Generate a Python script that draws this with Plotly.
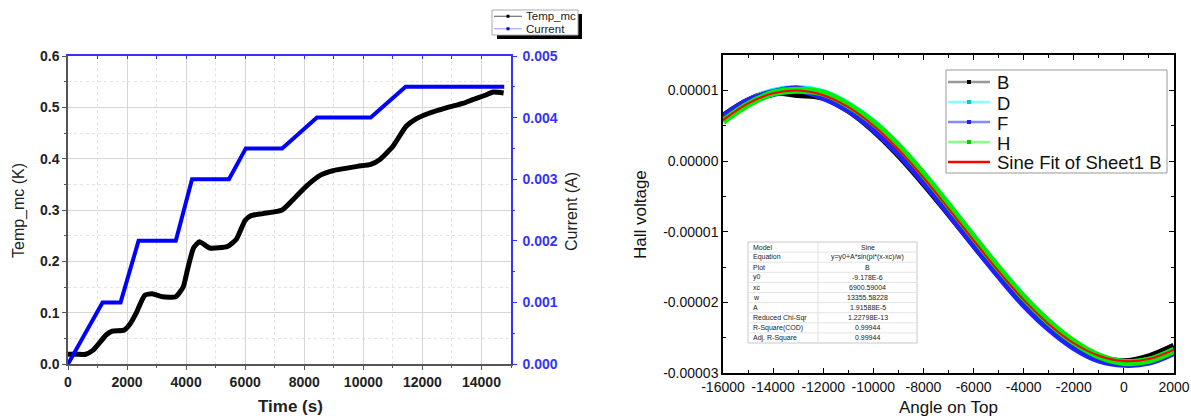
import plotly.graph_objects as go

# ---------------- data: left chart ----------------
time_temp = [0, 300, 600, 850, 1050, 1300, 1500, 1900, 2100, 2300, 2600, 2850, 3200, 3650,
             3900, 4050, 4250, 4450, 4800, 5400, 5700, 6000, 6200, 6600, 7250, 7700, 8100,
             8550, 9000, 9800, 10250, 10550, 11000, 11450, 11800, 12200, 12800, 13400,
             13700, 14100, 14400, 14750]
temp_mc = [0.019, 0.019, 0.019, 0.027, 0.040, 0.057, 0.064, 0.066, 0.078, 0.098, 0.134,
           0.137, 0.131, 0.131, 0.150, 0.185, 0.226, 0.238, 0.226, 0.229, 0.243, 0.280,
           0.289, 0.293, 0.300, 0.325, 0.348, 0.368, 0.377, 0.385, 0.389, 0.398, 0.424,
           0.463, 0.478, 0.488, 0.499, 0.508, 0.515, 0.523, 0.530, 0.528]
time_cur = [0, 1170, 1780, 2390, 3650, 4200, 5450, 6020, 7250, 8430, 10250, 11430, 14770]
current = [0, 0.001, 0.001, 0.002, 0.002, 0.003, 0.003, 0.0035, 0.0035, 0.004, 0.004,
           0.0045, 0.0045]
left_x_ticks = [0, 2000, 4000, 6000, 8000, 10000, 12000, 14000]
left_legend_names = ["Temp_mc", "Current"]
left_legend_line = ["#555555", "#9999ff"]
left_legend_mark = ["#000000", "#0000ff"]

# ---------------- data: right chart ----------------
angle = [-16000, -15000, -14000, -13000, -12000, -11000, -10000, -9000, -8000, -7000,
         -6000, -5000, -4000, -3000, -2000, -1000, 0, 1000, 2000]
hall_B = [6.3, 8.5, 9.7, 9.4, 9.0, 7.2, 4.4, 0.9, -3.1, -7.4, -11.8, -16.0, -20.1, -23.5,
          -26.2, -27.9, -28.4, -27.7, -26.2]
hall_D = [5.9, 8.3, 9.8, 10.2, 9.6, 7.9, 5.4, 2.0, -2.0, -6.4, -10.9, -15.3, -19.4, -22.9,
          -25.8, -27.7, -28.6, -28.3, -26.9]
hall_F = [6.1, 8.4, 9.6, 10.1, 9.1, 7.3, 4.6, 1.2, -2.8, -7.2, -11.7, -16.1, -20.2, -23.6,
          -26.3, -28.1, -28.7, -28.4, -27.0]
hall_H = [5.6, 8.0, 9.6, 10.0, 9.6, 7.9, 5.4, 2.1, -1.9, -6.3, -10.8, -15.2, -19.3, -22.8,
          -25.6, -27.6, -28.5, -28.2, -26.8]
hall_fit = [5.79, 8.16, 9.58, 9.97, 9.31, 7.62, 5.02, 1.63, -2.36, -6.74, -11.23, -15.62,
            -19.66, -23.09, -25.79, -27.55, -28.31, -28.01, -26.69]   # in 1e-6 V
right_x_tickvals = [-16000, -14000, -12000, -10000, -8000, -6000, -4000, -2000, 0, 2000]
right_x_ticktext = ["-16000", "-14000", "-12000", "-10000", "-8000", "-6000", "-4000",
                    "-2000", "0", "2000"]
right_y_tickvals = [1e-5, 0, -1e-5, -2e-5, -3e-5]
right_y_ticktext = ["0.00001", "0.00000", "-0.00001", "-0.00002", "-0.00003"]
right_legend_names = ["B", "D", "F", "H", "Sine Fit of Sheet1 B"]
right_legend_line = ["#999999", "#88ffff", "#8888ff", "#88ff88", "#ff0000"]
right_legend_mark = ["#000000", "#00cccc", "#2020ff", "#00cc00", None]

table_labels = ["Model", "Equation", "Plot", "y0", "xc", "w", "A", "Reduced Chi-Sqr",
                "R-Square(COD)", "Adj. R-Square"]
table_values = ["Sine", "y=y0+A*sin(pi*(x-xc)/w)", "B", "-9.178E-6", "6900.59004",
                "13355.58228", "1.91588E-5", "1.22798E-13", "0.99944", "0.99944"]

FONT = "Liberation Sans, Arial, sans-serif"
W, H = 1191, 420


def px_x(p):
    return p / W


def px_y(p):
    return 1 - p / H


scale = 1e-6
fig = go.Figure()

# ---- left chart traces ----
fig.add_trace(go.Scatter(x=time_temp, y=temp_mc, mode="lines", name="Temp_mc",
                         line=dict(color="black", width=5, shape="spline", smoothing=0.5),
                         xaxis="x", yaxis="y", showlegend=False))
fig.add_trace(go.Scatter(x=time_cur, y=current, mode="lines", name="Current",
                         line=dict(color="#0000ff", width=4),
                         xaxis="x", yaxis="y2", showlegend=False))
# dummy for top blue axis
fig.add_trace(go.Scatter(x=[None], y=[None], xaxis="x3", yaxis="y", showlegend=False))

# ---- right chart traces ----
series = [("B", hall_B, "black", 7), ("D", hall_D, "#00ffff", 8),
          ("F", hall_F, "#2020ff", 8), ("H", hall_H, "#00ee00", 7)]
for name, vals, col, w in series:
    fig.add_trace(go.Scatter(x=angle, y=[v * scale for v in vals], mode="lines", name=name,
                             line=dict(color=col, width=w, shape="spline"),
                             xaxis="x2", yaxis="y3", showlegend=False))
fig.add_trace(go.Scatter(x=angle, y=[v * scale for v in hall_fit], mode="lines",
                         name="Sine Fit of Sheet1 B",
                         line=dict(color="#ff0000", width=2, shape="spline"),
                         xaxis="x2", yaxis="y3", showlegend=False))

shapes = []
annotations = []

# ---- left legend (drawn box with shadow) ----
L_x0, L_x1, L_y0, L_row = 492, 578, 10, 12.5
L_y1 = L_y0 + L_row * len(left_legend_names)
shapes.append(dict(type="rect", xref="paper", yref="paper",
                   x0=px_x(L_x0 + 5), x1=px_x(L_x1 + 4), y0=px_y(L_y1 + 4), y1=px_y(L_y0 + 4),
                   fillcolor="black", line=dict(width=0), layer="above"))
shapes.append(dict(type="rect", xref="paper", yref="paper",
                   x0=px_x(L_x0), x1=px_x(L_x1), y0=px_y(L_y1), y1=px_y(L_y0),
                   fillcolor="white", line=dict(color="#aaaaaa", width=1), layer="above"))
for i, (nm, lc, mc) in enumerate(zip(left_legend_names, left_legend_line, left_legend_mark)):
    yc = L_y0 + L_row * (i + 0.5)
    shapes.append(dict(type="line", xref="paper", yref="paper",
                       x0=px_x(494), x1=px_x(522), y0=px_y(yc), y1=px_y(yc),
                       line=dict(color=lc, width=1), layer="above"))
    shapes.append(dict(type="rect", xref="paper", yref="paper",
                       x0=px_x(506.5), x1=px_x(509.5), y0=px_y(yc + 1.5), y1=px_y(yc - 1.5),
                       fillcolor=mc, line=dict(width=0), layer="above"))
    annotations.append(dict(text=nm, x=px_x(524), y=px_y(yc), xref="paper", yref="paper",
                            xanchor="left", yanchor="middle", showarrow=False,
                            font=dict(size=11.5, color="#222")))

# ---- right legend ----
R_x0, R_x1, R_y0, R_row = 946, 1167, 72, 20
R_y1 = R_y0 + R_row * len(right_legend_names) + 1
shapes.append(dict(type="rect", xref="paper", yref="paper",
                   x0=px_x(R_x0), x1=px_x(R_x1), y0=px_y(R_y1), y1=px_y(R_y0 - 2),
                   fillcolor="white", line=dict(color="#999999", width=1), layer="above"))
for i, (nm, lc, mc) in enumerate(zip(right_legend_names, right_legend_line, right_legend_mark)):
    yc = R_y0 + R_row * (i + 0.5)
    shapes.append(dict(type="line", xref="paper", yref="paper",
                       x0=px_x(948), x1=px_x(990), y0=px_y(yc), y1=px_y(yc),
                       line=dict(color=lc, width=2.5), layer="above"))
    if mc:
        shapes.append(dict(type="rect", xref="paper", yref="paper",
                           x0=px_x(967), x1=px_x(971), y0=px_y(yc + 2), y1=px_y(yc - 2),
                           fillcolor=mc, line=dict(width=0), layer="above"))
    annotations.append(dict(text=nm, x=px_x(995), y=px_y(yc + 1), xref="paper", yref="paper",
                            xanchor="left", yanchor="middle", showarrow=False,
                            font=dict(size=18.5, color="#111")))

# ---- fit parameter table ----
T_x0, T_x1, T_div, T_y0, T_y1 = 748, 917, 818, 242, 343
n_rows = len(table_labels)
row_h = (T_y1 - T_y0) / n_rows
shapes.append(dict(type="rect", xref="paper", yref="paper",
                   x0=px_x(T_x0), x1=px_x(T_x1), y0=px_y(T_y1), y1=px_y(T_y0),
                   fillcolor="white", line=dict(color="#c8c8c8", width=1), layer="above"))
shapes.append(dict(type="line", xref="paper", yref="paper",
                   x0=px_x(T_div), x1=px_x(T_div), y0=px_y(T_y1), y1=px_y(T_y0),
                   line=dict(color="#e0e0e0", width=1), layer="above"))
for i in range(1, n_rows):
    yy = T_y0 + row_h * i
    shapes.append(dict(type="line", xref="paper", yref="paper",
                       x0=px_x(T_x0), x1=px_x(T_x1), y0=px_y(yy), y1=px_y(yy),
                       line=dict(color="#e4e4e4", width=1), layer="above"))
for i, (lab, val) in enumerate(zip(table_labels, table_values)):
    yc = T_y0 + row_h * (i + 0.5)
    annotations.append(dict(text=lab, x=px_x(T_x0 + 3), y=px_y(yc), xref="paper", yref="paper",
                            xanchor="left", yanchor="middle", showarrow=False,
                            font=dict(size=7, color="#222")))
    annotations.append(dict(text=val, x=px_x((T_div + T_x1) / 2), y=px_y(yc), xref="paper",
                            yref="paper", xanchor="center", yanchor="middle", showarrow=False,
                            font=dict(size=7, color="#222")))

# ---- axis titles ----
annotations += [
    dict(text="Time (s)", x=px_x(290), y=px_y(406), font=dict(size=17, weight="bold", color="#222")),
    dict(text="Temp_mc (K)", x=px_x(19), y=px_y(211), textangle=-90, font=dict(size=16, color="#222")),
    dict(text="Current (A)", x=px_x(571), y=px_y(212), textangle=-90, font=dict(size=16, color="#222")),
    dict(text="Angle on Top", x=px_x(948), y=px_y(407), font=dict(size=17, color="#111")),
    dict(text="Hall voltage", x=px_x(641), y=px_y(215), textangle=-90, font=dict(size=17, color="#111")),
]
for a in annotations[-5:]:
    a.update(xref="paper", yref="paper", xanchor="center", yanchor="middle", showarrow=False)

axcol = "#555"
blue = "#3333ff"
fig.update_layout(
    width=W, height=H, margin=dict(l=0, r=0, t=0, b=0, autoexpand=False),
    paper_bgcolor="white", plot_bgcolor="white",
    font=dict(family=FONT, color="#222"),
    showlegend=False,
    xaxis=dict(domain=[px_x(68), px_x(511)], anchor="y", range=[0, 15000], automargin=False,
               tickvals=left_x_ticks, tickformat="d", ticks="outside", ticklen=4, tickcolor=axcol,
               showline=True, linecolor=axcol, linewidth=1.5, zeroline=False,
               showgrid=True, gridcolor="#d6d6d6", gridwidth=1,
               tickfont=dict(size=14, weight="bold", color="#222"),
               minor=dict(dtick=1000, tick0=0, ticks="outside", ticklen=2, tickcolor=axcol,
                          showgrid=True, gridcolor="#e4e4e4", griddash="dot")),
    yaxis=dict(domain=[px_y(364), px_y(56)], anchor="x", range=[0, 0.6], dtick=0.1, automargin=False,
               tickformat=".1f", ticks="outside", ticklen=4, tickcolor=axcol,
               showline=True, linecolor=axcol, linewidth=1.5, zeroline=False,
               showgrid=True, gridcolor="#d6d6d6",
               tickfont=dict(size=14, weight="bold", color="#222"),
               minor=dict(dtick=0.05, ticks="outside", ticklen=2, tickcolor=axcol,
                          showgrid=True, gridcolor="#e4e4e4", griddash="dot")),
    yaxis2=dict(overlaying="y", side="right", anchor="x", range=[0, 0.005], dtick=0.001,
                automargin=False, ticklabelstandoff=3,
                tickformat=".3f", ticks="outside", ticklen=4, tickcolor=blue,
                showline=True, linecolor=blue, linewidth=1.5, zeroline=False, showgrid=False,
                tickfont=dict(size=14, weight="bold", color=blue),
                minor=dict(dtick=0.0005, ticks="outside", ticklen=2, tickcolor=blue)),
    xaxis3=dict(overlaying="x", side="top", anchor="y", range=[0, 15000], dtick=1000,
                automargin=False,
                ticks="inside", ticklen=3, tickcolor=blue, showticklabels=False,
                showline=True, linecolor=blue, linewidth=1.5, zeroline=False, showgrid=False),
    xaxis2=dict(domain=[px_x(723), px_x(1174)], anchor="y3", range=[-16000, 2000],
                automargin=False,
                tickmode="array", tickvals=right_x_tickvals, ticktext=right_x_ticktext,
                ticks="inside", ticklen=5, tickcolor="black", mirror="ticks",
                showline=True, linecolor="black", linewidth=1.5, zeroline=False, showgrid=False,
                tickfont=dict(size=14, color="#111"),
                minor=dict(tickmode="linear", tick0=0, dtick=1000, ticks="inside", ticklen=3,
                           tickcolor="black")),
    yaxis3=dict(domain=[px_y(373), px_y(55)], anchor="x2", range=[-3e-5, 1.5e-5],
                automargin=False,
                tickmode="array", tickvals=right_y_tickvals, ticktext=right_y_ticktext,
                ticks="inside", ticklen=5, tickcolor="black", mirror="ticks",
                showline=True, linecolor="black", linewidth=1.5, zeroline=False, showgrid=False,
                tickfont=dict(size=14, color="#111"),
                minor=dict(tickmode="linear", tick0=0, dtick=0.5e-5, ticks="inside", ticklen=3,
                           tickcolor="black")),
    shapes=shapes,
    annotations=annotations,
)

fig.write_html("out.html", config={"displayModeBar": False},
               post_script="document.body.style.margin='0';")
